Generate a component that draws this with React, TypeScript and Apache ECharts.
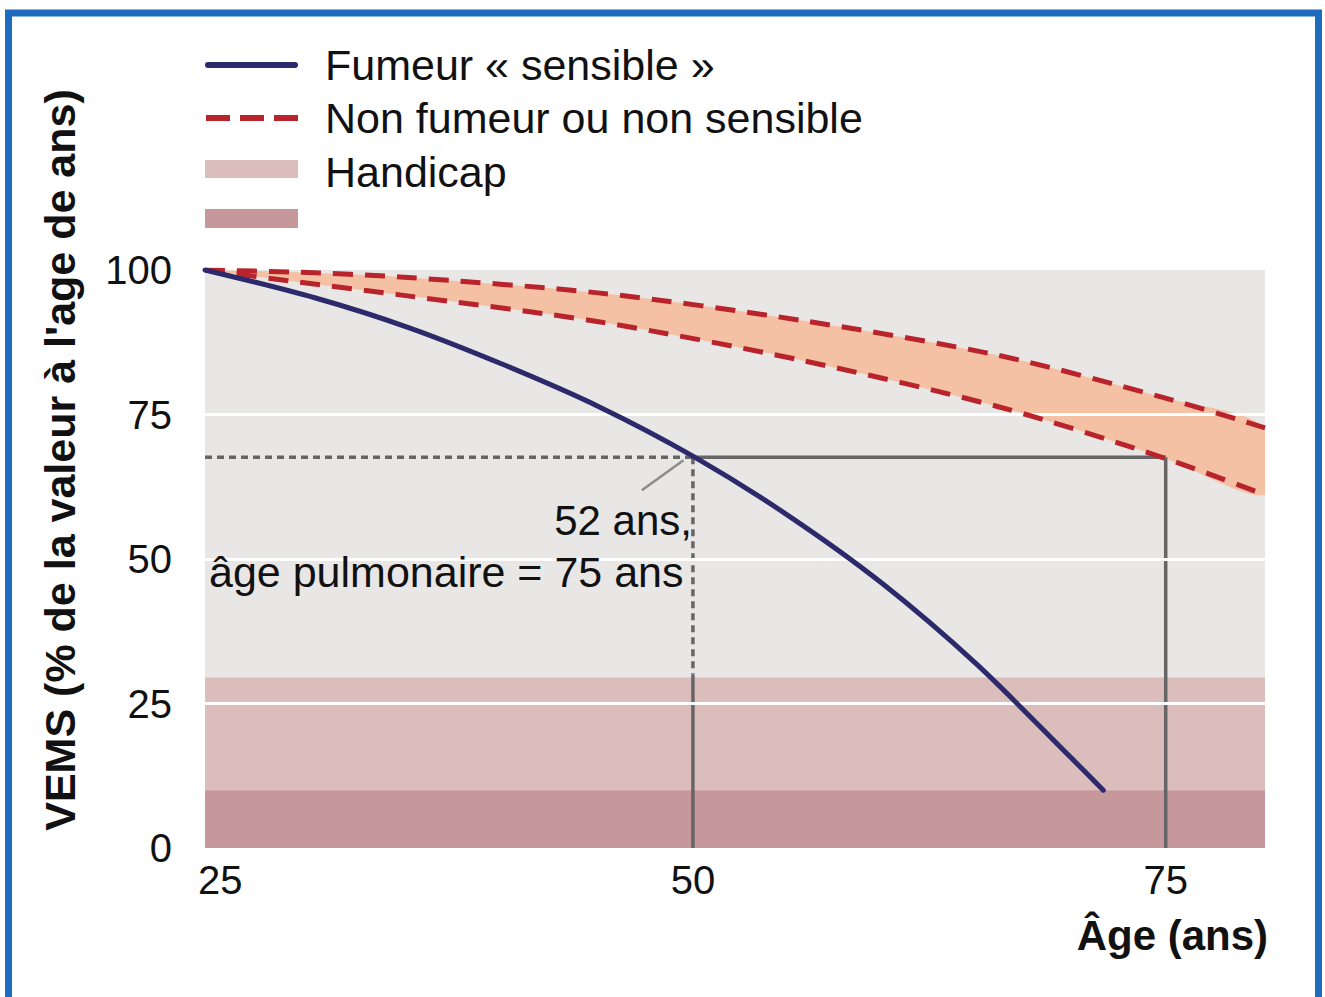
import React, { useEffect, useRef } from "react";
import * as echarts from "echarts";

// ---- data ----
const ageTicks = [25, 50, 75];
const vemsTicks = [0, 25, 50, 75, 100];

// Fumeur « sensible »
const agesFumeur = [24.2, 30, 35, 40, 45, 50, 55, 60, 65, 70, 71.7];
const vemsFumeur = [100, 95.2, 90.0, 83.6, 76.4, 67.8, 57.6, 45.8, 31.8, 15.6, 10.0];

// Non fumeur ou non sensible (band between two dashed curves)
const agesNonFumeur = [24.2, 29.2, 34.5, 45.1, 55.7, 66.2, 74.8, 80.25];
const vemsNonFumeurHaut = [100, 99.6, 98.8, 96.0, 91.3, 85.2, 78.0, 72.7];
const vemsNonFumeurBas = [100, 97.9, 95.7, 91.0, 84.4, 76.3, 67.6, 61.1];

// Handicap bands [from, to]
const handicapLeger = [10, 29.5];
const handicapSevere = [0, 10];

// Reference lines
const gridValues = [25, 50, 75];
const vemsReference = 67.6;
const ageReel = 50;
const agePulmonaire = 75;
const ageStart = 24.2;
const ageEnd = 80.25;
const dottedStop = 30;
const leader = [
  [47.3, 61.9],
  [49.5, 67.1],
];

const FONT = "'Liberation Sans', Arial, Helvetica, sans-serif";
const NAVY = "#2c2a6a";
const RED = "#b9232c";
const PEACH = "#f4c1a4";
const GRAY_LINE = "#666666";
const LIGHT_PINK = "#dbbdbb";
const DARK_PINK = "#c6979b";

export default function App() {
  const ref = useRef<HTMLDivElement>(null);

  useEffect(() => {
    if (!ref.current) return;
    const chart = echarts.init(ref.current, undefined, { renderer: "svg" });

    const pairs = (xs: number[], ys: number[]) => xs.map((x, i) => [x, ys[i]]);

    const grayLine = (data: number[][], dashed: boolean, color = GRAY_LINE, width = 3.5) => ({
      type: "line",
      data,
      symbol: "none",
      silent: true,
      z: 4,
      lineStyle: { color, width, type: dashed ? [7, 5] : "solid" },
    });

    const option: any = {
      animation: false,
      backgroundColor: "#ffffff",
      grid: {
        left: 205,
        right: 60,
        top: 270,
        bottom: 149,
        show: true,
        borderWidth: 0,
        backgroundColor: "#e9e7e5",
      },
      xAxis: {
        type: "value",
        min: ageStart,
        max: ageEnd,
        axisLine: { show: false },
        axisTick: { show: false },
        splitLine: { show: false },
        axisLabel: {
          customValues: ageTicks,
          fontSize: 40,
          fontFamily: FONT,
          color: "#111",
          margin: 12,
        },
      },
      yAxis: {
        type: "value",
        min: 0,
        max: 100,
        interval: 25,
        axisLine: { show: false },
        axisTick: { show: false },
        splitLine: { show: false },
        axisLabel: {
          customValues: vemsTicks,
          fontSize: 40,
          fontFamily: FONT,
          color: "#111",
          margin: 33,
        },
      },
      series: [
        {
          type: "line",
          data: [],
          silent: true,
          z: 1,
          markArea: {
            silent: true,
            data: [
              [
                { yAxis: handicapLeger[0], itemStyle: { color: LIGHT_PINK } },
                { yAxis: handicapLeger[1] },
              ],
              [
                { yAxis: handicapSevere[0], itemStyle: { color: DARK_PINK } },
                { yAxis: handicapSevere[1] },
              ],
            ],
          },
        },
        {
          type: "line",
          data: [],
          silent: true,
          z: 2,
          markLine: {
            silent: true,
            symbol: ["none", "none"],
            label: { show: false },
            lineStyle: { color: "#ffffff", width: 3, type: "solid" },
            data: gridValues.map((v) => ({ yAxis: v })),
          },
        },
        {
          type: "custom",
          silent: true,
          clip: true,
          z: 3,
          data: [[agesNonFumeur[0], vemsNonFumeurHaut[0]]],
          renderItem: (params: any, api: any) => {
            const top = agesNonFumeur.map((x, i) => api.coord([x, vemsNonFumeurHaut[i]]));
            const bottom = agesNonFumeur
              .map((x, i) => api.coord([x, vemsNonFumeurBas[i]]))
              .reverse();
            return {
              type: "polygon",
              shape: { points: top.concat(bottom), smooth: 0.3 },
              style: { fill: PEACH, stroke: "none" },
            };
          },
        },
        grayLine([[ageStart, vemsReference], [ageReel, vemsReference]], true),
        grayLine([[ageReel, vemsReference], [agePulmonaire, vemsReference]], false),
        grayLine([[ageReel, vemsReference], [ageReel, dottedStop]], true),
        grayLine([[ageReel, dottedStop], [ageReel, 0]], false),
        grayLine([[agePulmonaire, vemsReference], [agePulmonaire, 0]], false),
        grayLine(leader, false, "#8c8c8c", 2.5),
        {
          name: "Non fumeur ou non sensible (haut)",
          type: "line",
          data: pairs(agesNonFumeur, vemsNonFumeurHaut),
          smooth: 0.3,
          symbol: "none",
          z: 5,
          lineStyle: { color: RED, width: 5, type: [20, 12] },
        },
        {
          name: "Non fumeur ou non sensible (bas)",
          type: "line",
          data: pairs(agesNonFumeur, vemsNonFumeurBas),
          smooth: 0.3,
          symbol: "none",
          z: 5,
          lineStyle: { color: RED, width: 5, type: [20, 12] },
        },
        {
          name: "Fumeur « sensible »",
          type: "line",
          data: pairs(agesFumeur, vemsFumeur),
          smooth: 0.3,
          symbol: "none",
          z: 6,
          lineStyle: { color: NAVY, width: 5, cap: "round" },
        },
      ],
      graphic: [
        {
          type: "rect",
          silent: true,
          shape: { x: 8.5, y: 13, width: 1310, height: 1020 },
          style: { fill: "none", stroke: "#1e6cbe", lineWidth: 7 },
        },
        // legend
        {
          type: "line",
          shape: { x1: 208, y1: 65, x2: 295, y2: 65 },
          style: { stroke: NAVY, lineWidth: 6, lineCap: "round" },
        },
        {
          type: "line",
          shape: { x1: 206, y1: 118, x2: 298, y2: 118 },
          style: { stroke: RED, lineWidth: 6, lineDash: [24, 10] },
        },
        {
          type: "rect",
          shape: { x: 205, y: 160, width: 93, height: 18 },
          style: { fill: LIGHT_PINK },
        },
        {
          type: "rect",
          shape: { x: 205, y: 209, width: 93, height: 19 },
          style: { fill: DARK_PINK },
        },
        {
          type: "text",
          x: 325,
          y: 65,
          style: {
            text: "Fumeur « sensible »",
            font: `43px ${FONT}`,
            fill: "#111",
            textVerticalAlign: "middle",
          },
        },
        {
          type: "text",
          x: 325,
          y: 118,
          style: {
            text: "Non fumeur ou non sensible",
            font: `43px ${FONT}`,
            fill: "#111",
            textVerticalAlign: "middle",
          },
        },
        {
          type: "text",
          x: 325,
          y: 172,
          style: {
            text: "Handicap",
            font: `43px ${FONT}`,
            fill: "#111",
            textVerticalAlign: "middle",
          },
        },
        // annotation
        {
          type: "text",
          x: 692,
          y: 520,
          z: 10,
          style: {
            text: "52 ans,",
            font: `42px ${FONT}`,
            fill: "#111",
            textAlign: "right",
            textVerticalAlign: "middle",
          },
        },
        {
          type: "text",
          x: 209,
          y: 572,
          z: 10,
          style: {
            text: "âge pulmonaire = 75 ans",
            font: `43px ${FONT}`,
            fill: "#111",
            textAlign: "left",
            textVerticalAlign: "middle",
          },
        },
        // axis titles
        {
          type: "text",
          x: 60,
          y: 460,
          rotation: Math.PI / 2,
          style: {
            text: "VEMS (% de la valeur à l'age de ans)",
            font: `bold 43px ${FONT}`,
            fill: "#111",
            textAlign: "center",
            textVerticalAlign: "middle",
          },
        },
        {
          type: "text",
          x: 1268,
          y: 935,
          style: {
            text: "Âge (ans)",
            font: `bold 42px ${FONT}`,
            fill: "#111",
            textAlign: "right",
            textVerticalAlign: "middle",
          },
        },
      ],
    };

    chart.setOption(option);
    return () => chart.dispose();
  }, []);

  return (
    <div
      ref={ref}
      style={{ position: "fixed", left: 0, top: 0, width: 1325, height: 997, background: "#fff" }}
    />
  );
}
